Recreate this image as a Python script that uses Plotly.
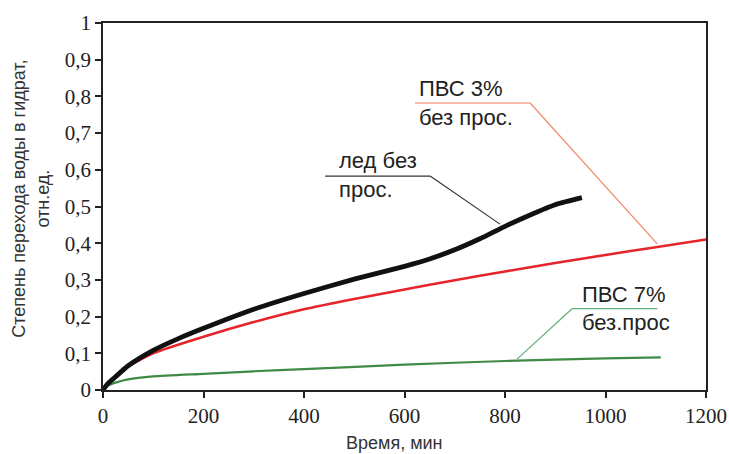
import plotly.graph_objects as go

# ---- data ----
ice_x = [0, 10, 25, 50, 100, 150, 200, 300, 400, 500, 600, 650, 700, 750, 800, 850, 900, 953]
ice_y = [0, 0.018, 0.036, 0.066, 0.108, 0.140, 0.168, 0.220, 0.263, 0.302, 0.337, 0.357, 0.382, 0.412, 0.446, 0.477, 0.505, 0.524]

pva3_x = [0, 10, 25, 50, 100, 200, 300, 400, 500, 600, 700, 800, 900, 1000, 1100, 1200]
pva3_y = [0, 0.018, 0.036, 0.064, 0.100, 0.145, 0.185, 0.220, 0.248, 0.274, 0.299, 0.323, 0.346, 0.368, 0.389, 0.410]

pva7_x = [0, 10, 25, 50, 100, 200, 300, 400, 600, 800, 1000, 1110]
pva7_y = [0, 0.012, 0.020, 0.029, 0.037, 0.044, 0.051, 0.057, 0.069, 0.079, 0.086, 0.089]

y_ticks = [0, 0.1, 0.2, 0.3, 0.4, 0.5, 0.6, 0.7, 0.8, 0.9, 1.0]
y_labels = ["0", "0,1", "0,2", "0,3", "0,4", "0,5", "0,6", "0,7", "0,8", "0,9", "1"]
x_ticks = [0, 200, 400, 600, 800, 1000, 1200]

SANS = "Liberation Sans, Arial, sans-serif"
SERIF = "Liberation Serif, Times New Roman, serif"

fig = go.Figure()
fig.add_trace(go.Scatter(x=pva7_x, y=pva7_y, mode="lines",
                         line=dict(color="#3f8a45", width=2.2, shape="spline", smoothing=0.6),
                         showlegend=False))
fig.add_trace(go.Scatter(x=pva3_x, y=pva3_y, mode="lines",
                         line=dict(color="#e5252a", width=2.6, shape="spline", smoothing=0.6),
                         showlegend=False))
fig.add_trace(go.Scatter(x=ice_x, y=ice_y, mode="lines",
                         line=dict(color="#111111", width=4.8, shape="spline", smoothing=0.6),
                         showlegend=False))

# leader lines (callouts)
shapes = [
    dict(type="line", x0=621, y0=0.782, x1=850, y1=0.782, line=dict(color="#ee7a5a", width=1.2)),
    dict(type="line", x0=850, y0=0.782, x1=1103, y1=0.398, line=dict(color="#ee8a6a", width=1.2)),
    dict(type="line", x0=442, y0=0.583, x1=651, y1=0.583, line=dict(color="#333333", width=1.2)),
    dict(type="line", x0=651, y0=0.583, x1=790, y1=0.452, line=dict(color="#333333", width=1.2)),
    dict(type="line", x0=934, y0=0.222, x1=1103, y1=0.222, line=dict(color="#5fb07a", width=1.2)),
    dict(type="line", x0=934, y0=0.222, x1=824, y1=0.084, line=dict(color="#5fb07a", width=1.2)),
]

def lbl(x, y, t):
    return dict(x=x, y=y, xref="x", yref="y", text=t, showarrow=False,
                xanchor="left", yanchor="middle",
                font=dict(family=SANS, size=22, color="#222222"))

annotations = [
    lbl(625, 0.821, "ПВС 3%"),
    lbl(625, 0.743, "без прос."),
    lbl(466, 0.625, "лед без"),
    lbl(466, 0.546, "прос."),
    lbl(950, 0.260, "ПВС 7%"),
    lbl(950, 0.183, "без.прос"),
    dict(x=-0.12, y=0.52, xref="paper", yref="paper", textangle=-90,
         text="Степень перехода воды в гидрат,<br>отн.ед.", showarrow=False,
         xanchor="center", yanchor="middle",
         font=dict(family=SANS, size=18, color="#333333")),
    dict(x=0.484, y=-0.145, xref="paper", yref="paper",
         text="Время, мин", showarrow=False, xanchor="center", yanchor="middle",
         font=dict(family=SANS, size=18, color="#333333")),
]

fig.update_layout(
    width=729, height=454,
    margin=dict(l=103, r=23, t=23, b=64, autoexpand=False),
    paper_bgcolor="white", plot_bgcolor="white",
    shapes=shapes, annotations=annotations,
    xaxis=dict(range=[0, 1200], tickvals=x_ticks, ticks="outside", ticklen=6,
               tickwidth=1.5, tickcolor="#222", showline=True, linecolor="#222",
               linewidth=1.8, mirror=True, showgrid=False, zeroline=False,
               automargin=False,
               tickfont=dict(family=SERIF, size=21, color="#222")),
    yaxis=dict(range=[0, 1], tickvals=y_ticks, ticktext=y_labels, ticks="outside",
               ticklen=6, tickwidth=1.5, tickcolor="#222", showline=True,
               linecolor="#222", linewidth=1.8, mirror=True, showgrid=False,
               zeroline=False, automargin=False,
               tickfont=dict(family=SERIF, size=21, color="#222")),
)

fig.write_html(
    "out.html",
    config={"displayModeBar": False},
    post_script="document.body.style.margin='0';document.body.style.overflow='hidden';",
)
